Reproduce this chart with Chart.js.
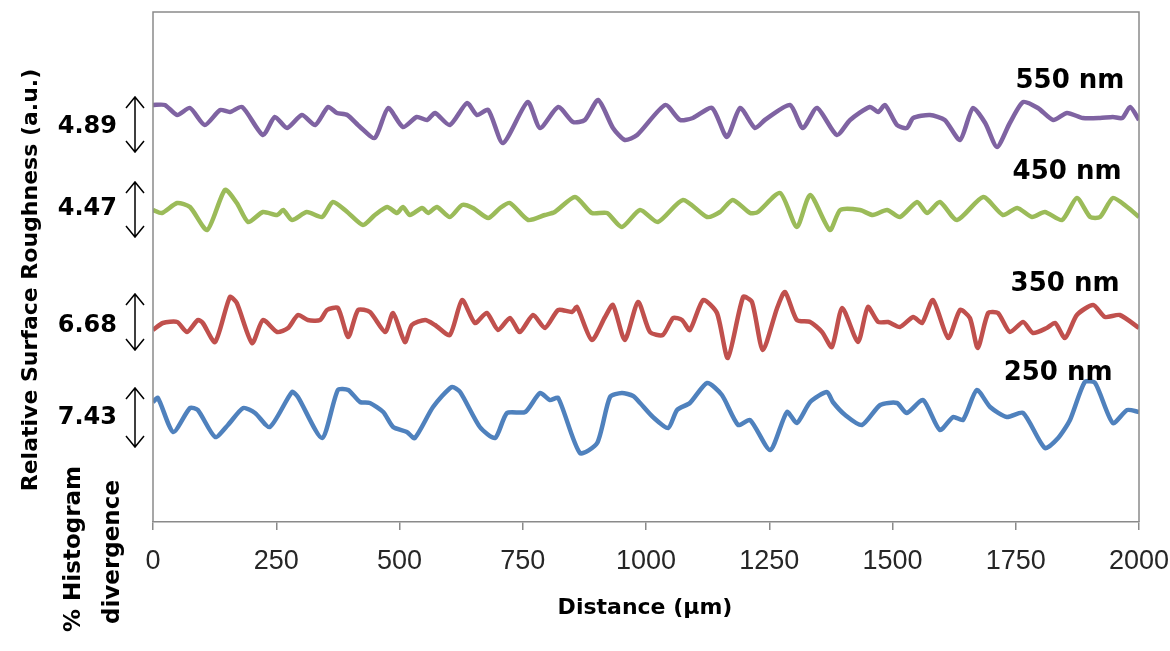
<!DOCTYPE html>
<html>
<head>
<meta charset="utf-8">
<script src="https://cdn.jsdelivr.net/npm/chart.js@4.4.1/dist/chart.umd.min.js"></script>
<style>
html,body{margin:0;padding:0;background:#ffffff;}
canvas{display:block;}
</style>
</head>
<body>
<canvas id="c" width="1170" height="651"></canvas>
<script>
// ---------- data ----------
const xTicks = [0, 250, 500, 750, 1000, 1250, 1500, 1750, 2000];

const dist550 = [0,24,49,75,105,136,156,181,223,247,272,302,329,355,373,394,420,450,477,507,535,556,572,602,637,657,680,710,760,785,822,852,876,903,933,957,982,1039,1069,1095,1134,1164,1191,1221,1241,1292,1318,1347,1387,1414,1454,1471,1485,1509,1529,1542,1576,1606,1637,1663,1688,1712,1738,1765,1795,1826,1854,1886,1921,1947,1966,1982,2000];
const rough550 = [8.34,8.34,8.14,8.28,7.94,8.24,8.20,8.30,7.74,8.10,7.88,8.14,7.94,8.30,8.18,8.14,7.90,7.68,8.28,7.90,8.10,8.04,8.18,7.94,8.38,8.14,8.24,7.58,8.40,7.88,8.30,8.00,8.04,8.44,7.88,7.64,7.74,8.34,8.04,8.08,8.28,7.70,8.28,7.88,8.04,8.34,7.88,8.28,7.74,8.04,8.30,8.20,8.34,7.94,7.88,8.08,8.14,8.04,7.64,8.28,7.98,7.50,7.98,8.40,8.28,8.04,8.18,8.08,8.08,8.10,8.08,8.30,8.04];

const dist450 = [0,18,49,75,110,146,170,193,223,252,264,282,312,343,365,394,426,450,475,495,507,521,546,558,576,602,627,649,680,704,724,761,795,815,856,890,921,951,988,1024,1075,1124,1150,1176,1211,1227,1272,1306,1333,1373,1394,1434,1460,1489,1515,1550,1570,1596,1631,1684,1724,1753,1783,1809,1844,1874,1901,1921,1947,1976,2000];
const rough450 = [6.24,6.18,6.38,6.30,5.84,6.64,6.38,6.00,6.20,6.14,6.24,6.04,6.20,6.10,6.40,6.20,5.94,6.14,6.30,6.18,6.30,6.14,6.28,6.18,6.30,6.10,6.34,6.28,6.08,6.28,6.38,6.04,6.14,6.20,6.50,6.18,6.18,5.90,6.24,6.00,6.44,6.10,6.20,6.44,6.18,6.20,6.58,5.90,6.54,5.84,6.24,6.24,6.14,6.24,6.10,6.40,6.18,6.40,6.04,6.50,6.14,6.28,6.10,6.20,6.04,6.48,6.10,6.10,6.48,6.30,6.10];

const dist350 = [0,20,49,69,91,101,126,156,170,201,223,252,274,294,314,339,353,375,396,416,440,471,487,511,525,552,572,602,627,653,677,700,724,744,771,795,822,850,860,890,917,933,957,984,1008,1034,1055,1073,1089,1116,1144,1166,1197,1215,1237,1266,1282,1306,1333,1357,1377,1398,1430,1450,1471,1491,1515,1542,1560,1582,1613,1637,1657,1673,1694,1714,1738,1765,1785,1813,1830,1850,1874,1907,1931,1961,2000];
const rough350 = [3.84,3.98,4.00,3.80,4.04,3.98,3.60,4.50,4.38,3.58,4.04,3.80,3.88,4.14,4.04,4.04,4.24,4.28,3.70,4.24,4.20,3.80,4.18,3.60,3.94,4.04,3.94,3.74,4.44,3.98,4.18,3.84,4.08,3.80,4.14,3.88,4.24,4.20,4.30,3.64,4.10,4.34,3.64,4.40,3.80,3.74,4.08,4.04,3.84,4.44,4.18,3.28,4.50,4.40,3.44,4.28,4.60,4.04,4.00,3.80,3.50,4.28,3.60,4.30,4.00,4.00,3.90,4.10,3.98,4.44,3.68,4.24,4.08,3.48,4.18,4.18,3.80,4.00,3.78,3.88,3.98,3.68,4.14,4.34,4.10,4.14,3.88];

const dist250 = [0,10,41,75,91,126,152,183,207,237,282,294,343,375,396,420,440,467,487,515,531,568,606,623,663,694,718,755,785,805,822,866,901,927,951,974,988,1014,1045,1063,1089,1124,1154,1187,1211,1252,1286,1306,1333,1367,1379,1404,1438,1475,1509,1529,1562,1596,1623,1643,1671,1698,1732,1765,1809,1836,1860,1890,1911,1947,1976,2000];
const rough250 = [2.40,2.48,1.80,2.28,2.24,1.70,1.94,2.28,2.18,1.90,2.60,2.50,1.68,2.64,2.64,2.40,2.38,2.20,1.90,1.80,1.68,2.30,2.70,2.60,1.90,1.68,2.18,2.20,2.58,2.44,2.48,1.38,1.58,2.50,2.58,2.52,2.38,2.10,1.88,2.24,2.38,2.78,2.54,1.94,2.04,1.44,2.20,1.98,2.40,2.60,2.40,2.14,1.94,2.34,2.38,2.18,2.44,1.84,2.10,2.04,2.64,2.30,2.10,2.18,1.48,1.68,2.04,2.80,2.78,1.98,2.24,2.20];

const seriesNames = ['550 nm', '450 nm', '350 nm', '250 nm'];
const seriesColors = ['#7f63a2', '#9bbb59', '#c0504d', '#4f81bd'];
const labelDist = [1860, 1854, 1850, 1836];
const labelLevel = [8.86, 7.04, 4.80, 3.02];

const divergenceLabels = ['4.89', '4.47', '6.68', '7.43'];
const divergenceMid = [7.95, 6.32, 3.98, 2.14];
const divergenceHigh = [8.50, 6.80, 4.56, 2.68];
const divergenceLow = [7.40, 5.70, 3.44, 1.50];

const xTitle = 'Distance (\u03bcm)';
const yTitle = 'Relative Surface Roughness (a.u.)';
const yTitle2 = ['% Histogram', 'divergence'];

// ---------- chart ----------
const AXIS = '#8a8a8a';
const pairs = (xs, ys) => xs.map((v, i) => ({x: v, y: ys[i]}));
const seriesData = [pairs(dist550, rough550), pairs(dist450, rough450), pairs(dist350, rough350), pairs(dist250, rough250)];

const decor = {
  id: 'decor',
  afterDraw(chart) {
    const {ctx, chartArea: a, scales: {x, y}} = chart;
    ctx.save();
    // frame (left, top, right)
    ctx.strokeStyle = AXIS; ctx.lineWidth = 1.5;
    ctx.beginPath();
    ctx.moveTo(a.left, a.bottom); ctx.lineTo(a.left, a.top);
    ctx.lineTo(a.right, a.top); ctx.lineTo(a.right, a.bottom);
    ctx.stroke();

    ctx.fillStyle = '#000';
    // series labels
    ctx.font = 'bold 26px "DejaVu Sans"';
    ctx.textAlign = 'center'; ctx.textBaseline = 'alphabetic';
    seriesNames.forEach((n, i) => {
      ctx.fillText(n, x.getPixelForValue(labelDist[i]), y.getPixelForValue(labelLevel[i]) + 26 * 0.365);
    });

    // divergence numbers and double arrows
    ctx.font = 'bold 24px "DejaVu Sans"';
    ctx.textAlign = 'right';
    divergenceLabels.forEach((t, i) => {
      ctx.fillText(t, a.left - 36, y.getPixelForValue(divergenceMid[i]) + 24 * 0.365);
      const ax = a.left - 18;
      const t0 = y.getPixelForValue(divergenceHigh[i]);
      const b0 = y.getPixelForValue(divergenceLow[i]);
      ctx.strokeStyle = '#000'; ctx.lineWidth = 1.5;
      ctx.beginPath();
      ctx.moveTo(ax, t0); ctx.lineTo(ax, b0);
      ctx.moveTo(ax - 9, t0 + 11); ctx.lineTo(ax, t0); ctx.lineTo(ax + 9, t0 + 11);
      ctx.moveTo(ax - 9, b0 - 11); ctx.lineTo(ax, b0); ctx.lineTo(ax + 9, b0 - 11);
      ctx.stroke();
    });

    // x title
    ctx.textAlign = 'center';
    ctx.font = 'bold 22px "DejaVu Sans"';
    ctx.fillText(xTitle, (a.left + a.right) / 2 - 1, 614);

    // rotated y titles
    const rot = (txt, bx, cy, size) => {
      ctx.save();
      ctx.translate(bx, cy);
      ctx.rotate(-Math.PI / 2);
      ctx.font = 'bold ' + size + 'px "DejaVu Sans"';
      ctx.textAlign = 'center'; ctx.textBaseline = 'alphabetic';
      ctx.fillText(txt, 0, 0);
      ctx.restore();
    };
    rot(yTitle, 37, 280, 22);
    rot(yTitle2[0], 80, 549, 23);
    rot(yTitle2[1], 119, 552, 23);
    ctx.restore();
  }
};

new Chart(document.getElementById('c'), {
  type: 'line',
  data: {
    datasets: seriesNames.map((n, i) => ({
      label: n,
      data: seriesData[i],
      borderColor: seriesColors[i],
      backgroundColor: seriesColors[i],
      borderWidth: 4.5,
      pointRadius: 0,
      tension: 0.22,
      fill: false
    }))
  },
  options: {
    responsive: false,
    animation: false,
    layout: {padding: {left: 153, right: 31, top: 12, bottom: 0}},
    plugins: {legend: {display: false}, tooltip: {enabled: false}},
    scales: {
      x: {
        type: 'linear',
        min: 0, max: 2000,
        afterBuildTicks: (s) => { s.ticks = xTicks.map(v => ({value: v})); },
        afterFit: (s) => { s.height = 129; s.paddingLeft = 0; s.paddingRight = 0; },
        ticks: {
          font: {family: 'Liberation Sans, Arial, sans-serif', size: 27},
          color: '#262626',
          padding: 15,
          maxRotation: 0,
          autoSkip: false,
          callback: (v) => String(v)
        },
        grid: {drawOnChartArea: false, drawTicks: true, tickLength: 8, color: AXIS, lineWidth: 1.5},
        border: {display: true, color: AXIS, width: 1.5}
      },
      y: {
        type: 'linear',
        display: false,
        min: 0, max: 10.2
      }
    }
  },
  plugins: [decor]
});
</script>
</body>
</html>
